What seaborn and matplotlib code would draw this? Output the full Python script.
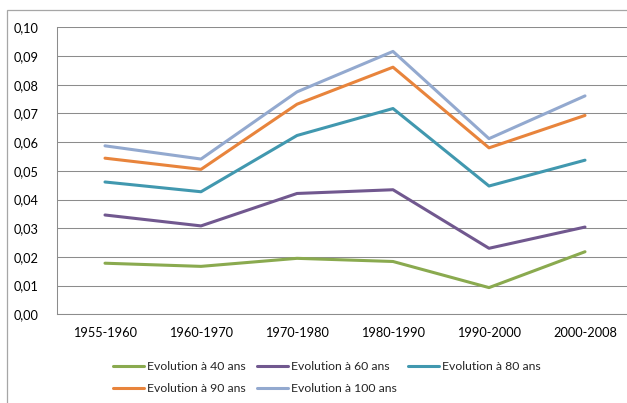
import numpy as np
import pandas as pd
import matplotlib
matplotlib.use("Agg")
import matplotlib.pyplot as plt
import seaborn as sns
from matplotlib.patches import Rectangle
from matplotlib.ticker import FuncFormatter

# Données
periodes = ["1955-1960", "1960-1970", "1970-1980", "1980-1990", "1990-2000", "2000-2008"]
evol_40 = [0.0178, 0.0167, 0.0195, 0.0184, 0.0093, 0.0218]
evol_60 = [0.0346, 0.0308, 0.0421, 0.0434, 0.0230, 0.0304]
evol_80 = [0.0461, 0.0427, 0.0623, 0.0717, 0.0447, 0.0537]
evol_90 = [0.0544, 0.0505, 0.0732, 0.0861, 0.0580, 0.0693]
evol_100 = [0.0587, 0.0541, 0.0775, 0.0916, 0.0612, 0.0761]
series = ["Evolution à 40 ans", "Evolution à 60 ans", "Evolution à 80 ans",
          "Evolution à 90 ans", "Evolution à 100 ans"]
couleurs = ["#8AAA4F", "#71588F", "#4198AF", "#E8843C", "#93A9CF"]

df = pd.concat([
    pd.DataFrame({"periode": periodes, "valeur": v, "serie": s})
    for s, v in zip(series, [evol_40, evol_60, evol_80, evol_90, evol_100])
], ignore_index=True)

sns.set_theme(style="white")
plt.rcParams["font.family"] = ["Lato", "DejaVu Sans"]

fig = plt.figure(figsize=(6.27, 4.03), dpi=100)
# cadre extérieur du graphique (coupé à droite et en bas)
fig.patches.append(Rectangle((7 / 627, -0.1), 1.0, 1 - 10 / 403 + 0.1,
                             transform=fig.transFigure, fill=False,
                             edgecolor="#A6A6A6", linewidth=0.9))
ax = fig.add_axes([57 / 627, (403 - 314.3) / 403, 576 / 627, 287 / 403])

sns.lineplot(data=df, x="periode", y="valeur", hue="serie", hue_order=series,
             palette=couleurs, sort=False, linewidth=2.2, ax=ax, legend=False)

ax.set_xlim(-0.5, 5.5)
ax.set_ylim(0, 0.10)
ax.set_yticks(np.arange(0, 0.1001, 0.01))
ax.yaxis.set_major_formatter(FuncFormatter(lambda v, p: f"{v:.2f}".replace(".", ",")))
ax.set_xlabel(""); ax.set_ylabel("")
ax.grid(axis="y", color="#8C8C8C", linewidth=0.75)
ax.set_axisbelow(True)
for side in ["top", "right"]:
    ax.spines[side].set_visible(False)
for side in ["left", "bottom"]:
    ax.spines[side].set_color("#8C8C8C")
    ax.spines[side].set_linewidth(0.75)
ax.tick_params(axis="y", length=0, pad=13, labelsize=9.2, colors="black")
ax.tick_params(axis="x", length=0, pad=9, labelsize=9.2, colors="black")

# légende : ordre ligne par ligne comme dans l'original
lignes = ax.get_lines()
ordre = [0, 3, 1, 4, 2]
fig.legend([lignes[i] for i in ordre], [series[i] for i in ordre],
           loc="center", bbox_to_anchor=(0.521, 0.063), ncol=3, frameon=False,
           fontsize=8.8, handlelength=2.55, handletextpad=0.25, columnspacing=0.9,
           labelspacing=0.9, borderpad=0)

fig.savefig("out.png", dpi=100)
